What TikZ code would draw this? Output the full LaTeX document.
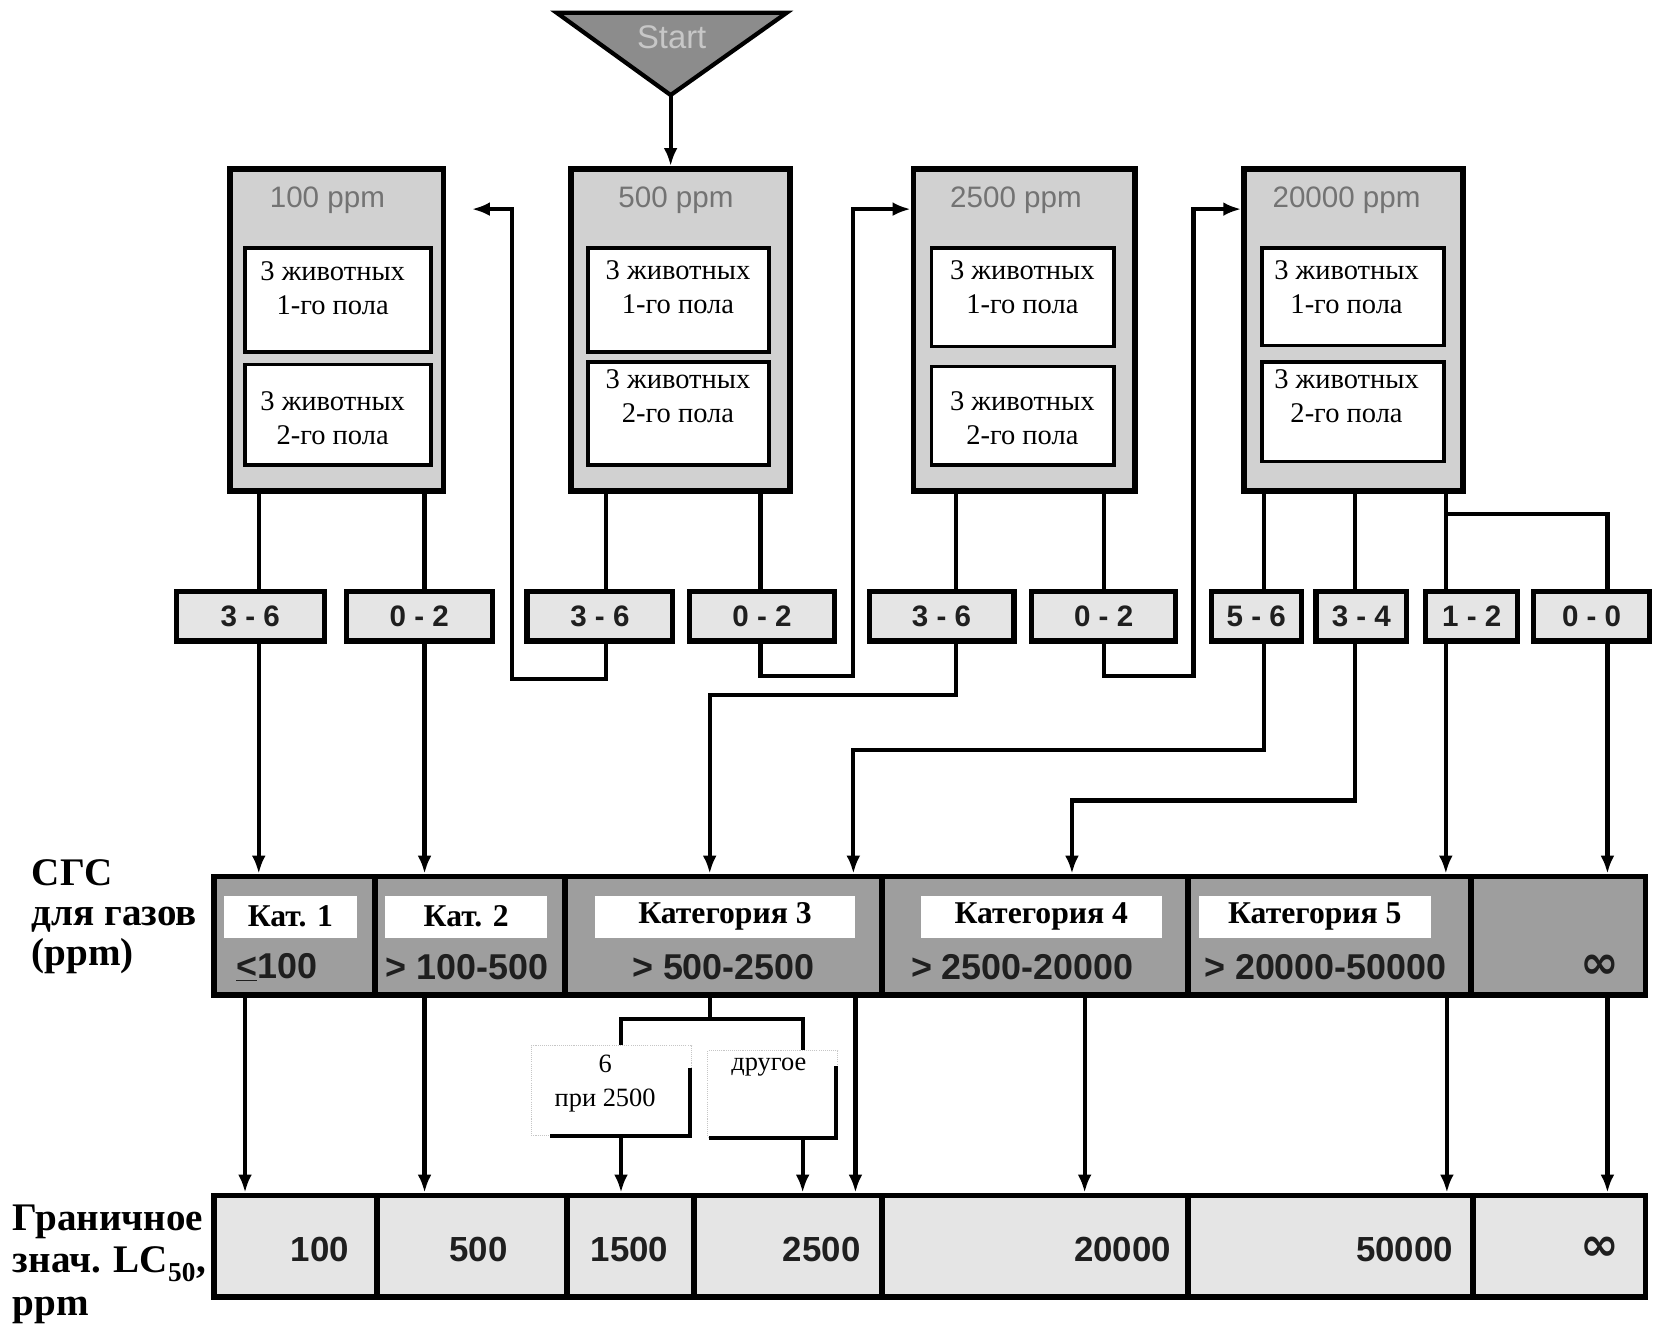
\documentclass[tikz,border=0pt]{standalone}
\usepackage{fontspec}
\setmainfont{Liberation Serif}
\setsansfont{Liberation Sans}
\newfontfamily\dvfont{DejaVu Sans}
\usetikzlibrary{arrows.meta,calc}
\definecolor{topgray}{gray}{0.82}
\definecolor{sgsgray}{gray}{0.62}
\definecolor{palegray}{gray}{0.90}
\definecolor{startgray}{gray}{0.55}
\definecolor{titlegray}{gray}{0.45}
\definecolor{starttext}{gray}{0.78}
\definecolor{darktext}{gray}{0.12}
\begin{document}
\begin{tikzpicture}[x=1pt,y=-1pt,
 conn/.style={line width=4pt},
 arr/.style={line width=4pt,-{Latex[length=17pt,width=13pt]}},
 outerbox/.style={draw,line width=5.5pt,fill=topgray,inner sep=0pt,minimum height=305pt},
 innerbox/.style={draw,line width=3.5pt,fill=white,inner sep=0pt},
 innertext/.style={align=center,inner sep=0pt,font=\fontsize{27}{32}\selectfont},
 titletext/.style={font=\sffamily\fontsize{28}{30}\selectfont,text=titlegray},
 resbox/.style={draw,line width=5pt,fill=palegray,inner sep=0pt,minimum height=47pt,font=\sffamily\bfseries\fontsize{28}{30}\selectfont,text=darktext},
 sgscell/.style={draw,line width=5.5pt,fill=sgsgray,inner sep=0pt,minimum height=112pt},
 catlabel/.style={fill=white,inner sep=0pt,minimum height=40pt,font=\bfseries\fontsize{30}{32}\selectfont},
 rangetext/.style={font=\sffamily\bfseries\fontsize{34}{36}\selectfont,text=darktext,inner sep=0pt},
 lccell/.style={draw,line width=5.5pt,fill=palegray,inner sep=0pt,minimum height=96pt},
 lcnum/.style={font=\sffamily\bfseries\fontsize{33}{36}\selectfont,text=darktext,inner sep=0pt},
 inftext/.style={font=\dvfont\bfseries\fontsize{44}{46}\selectfont,text=darktext,inner sep=0pt},
 sidelabel/.style={font=\bfseries\fontsize{37}{38}\selectfont,align=left,anchor=west,inner sep=0pt},
 subbox/.style={draw=gray!45,densely dotted,line width=1pt,fill=white,inner sep=0pt},
 subtext/.style={align=center,inner sep=0pt,font=\fontsize{25}{32}\selectfont}
]
\useasboundingbox (0,0) rectangle (1568,1265);
\fill[white] (0,0) rectangle (1568,1265);

% Start
\draw[fill=startgray,line width=4pt,line join=miter] (527,12) -- (745,12) -- (635,90) -- cycle;
\node[font=\sffamily\fontsize{31}{32}\selectfont,text=starttext] (start) at (636,35) {Start};
\coordinate (apex) at (635,90);

% top boxes
\node[outerbox,minimum width=202pt] (bA) at (319,312.5) {};
\node[outerbox,minimum width=207pt] (bB) at (644.5,312.5) {};
\node[outerbox,minimum width=210pt] (bC) at (970,312.5) {};
\node[outerbox,minimum width=207pt] (bD) at (1281.5,312.5) {};
\node[titletext] (tA) at (310,190) {100 ppm};
\node[titletext] (tB) at (640,190) {500 ppm};
\node[titletext] (tC) at (962,190) {2500 ppm};
\node[titletext] (tD) at (1275,190) {20000 ppm};

\node[innerbox,minimum width=176pt,minimum height=98pt] (iA1) at (320,284) {};
\node[innerbox,minimum width=176pt,minimum height=95pt] (iA2) at (320,392.5) {};
\node[innerbox,minimum width=171pt,minimum height=98pt] (iB1) at (642.5,284) {};
\node[innerbox,minimum width=171pt,minimum height=97pt] (iB2) at (642.5,391.5) {};
\node[innerbox,minimum width=173pt,minimum height=93pt] (iC1) at (968.5,281.5) {};
\node[innerbox,minimum width=173pt,minimum height=93pt] (iC2) at (968.5,393.5) {};
\node[innerbox,minimum width=172pt,minimum height=92pt] (iD1) at (1281,281) {};
\node[innerbox,minimum width=172pt,minimum height=94pt] (iD2) at (1281,390) {};
\node[innertext] (sA1) at (315,273) {3 животных\\1-го пола};
\node[innertext] (sA2) at (315,396) {3 животных\\2-го пола};
\node[innertext] (sB1) at (642,272) {3 животных\\1-го пола};
\node[innertext] (sB2) at (642,375) {3 животных\\2-го пола};
\node[innertext] (sC1) at (968,272) {3 животных\\1-го пола};
\node[innertext] (sC2) at (968,396) {3 животных\\2-го пола};
\node[innertext] (sD1) at (1275,272) {3 животных\\1-го пола};
\node[innertext] (sD2) at (1275,375) {3 животных\\2-го пола};

% result boxes
\node[resbox,minimum width=140pt] (rA1) at (237,583.5) {3 - 6};
\node[resbox,minimum width=138pt] (rA2) at (397,583.5) {0 - 2};
\node[resbox,minimum width=138pt] (rB1) at (568,583.5) {3 - 6};
\node[resbox,minimum width=137pt] (rB2) at (721.5,583.5) {0 - 2};
\node[resbox,minimum width=137pt] (rC1) at (891.5,583.5) {3 - 6};
\node[resbox,minimum width=136pt] (rC2) at (1045,583.5) {0 - 2};
\node[resbox,minimum width=85pt] (rD1) at (1189.5,583.5) {5 - 6};
\node[resbox,minimum width=86pt] (rD2) at (1289,583.5) {3 - 4};
\node[resbox,minimum width=87pt] (rD3) at (1393.5,583.5) {1 - 2};
\node[resbox,minimum width=110pt] (rD4) at (1507,583.5) {0 - 0};

% SGS row
\node[sgscell,minimum width=152pt] (c1) at (279,886) {};
\node[sgscell,minimum width=180pt] (c2) at (445,886) {};
\node[sgscell,minimum width=300pt] (c3) at (685,886) {};
\node[sgscell,minimum width=290pt] (c4) at (980,886) {};
\node[sgscell,minimum width=268pt] (c5) at (1259,886) {};
\node[sgscell,minimum width=165pt] (c6) at (1475.5,886) {};
\node[catlabel,minimum width=126pt] (k1) at (275,868) {Кат. 1};
\node[catlabel,minimum width=153pt] (k2) at (441.5,868) {Кат. 2};
\node[catlabel,minimum width=247pt] (k3) at (686.5,868) {Категория 3};
\node[catlabel,minimum width=228pt] (k4) at (986,868) {Категория 4};
\node[catlabel,minimum width=220pt] (k5) at (1245,868) {Категория 5};
\node[rangetext] (g1) at (262,916) {\underline{<}100};
\node[rangetext] (g2) at (442,916) {> 100-500};
\node[rangetext] (g3) at (685,916) {> 500-2500};
\node[rangetext] (g4) at (968,916) {> 2500-20000};
\node[rangetext] (g5) at (1255,916) {> 20000-50000};
\node[inftext] (g6) at (1515,915) {∞};

\node[sidelabel] (sgsl) at (30,868) {СГС\\для газов\\(ppm)};

% LC50 row
\node[lccell,minimum width=154pt] (b1) at (280,1180) {};
\node[lccell,minimum width=180pt] (b2) at (447,1180) {};
\node[lccell,minimum width=120pt] (b3) at (597,1180) {};
\node[lccell,minimum width=178pt] (b4) at (746,1180) {};
\node[lccell,minimum width=290pt] (b5) at (980,1180) {};
\node[lccell,minimum width=270pt] (b6) at (1260,1180) {};
\node[lccell,minimum width=163pt] (b7) at (1476.5,1180) {};
\node[lcnum] (n1) at (303,1183) {100};
\node[lcnum] (n2) at (453,1183) {500};
\node[lcnum] (n3) at (596,1183) {1500};
\node[lcnum] (n4) at (778,1183) {2500};
\node[lcnum] (n5) at (1063,1183) {20000};
\node[lcnum] (n6) at (1330,1183) {50000};
\node[inftext] (n7) at (1515,1182) {∞};

\node[sidelabel] (lcl) at (12,1197) {Граничное\\[2pt]знач. LC\textsubscript{50},\\[2pt]ppm};

% sub boxes under Kat 3
\node[subbox,minimum width=152pt,minimum height=85pt] (sixbox) at (579,1032.5) {};
\node[subbox,minimum width=123pt,minimum height=82pt] (othbox) at (731.5,1036) {};
\draw[line width=3.5pt] ($(sixbox.north east)+(-2,22)$) -- ($(sixbox.south east)+(-2,0)$) -- ($(sixbox.south west)+(18,0)$);
\draw[line width=3.5pt] ($(othbox.north east)+(-2,15)$) -- ($(othbox.south east)+(-2,0)$) -- ($(othbox.south west)+(2,0)$);
\node[subtext] (sixt) at (573,1026) {6\\при 2500};
\node[subtext] (otht) at (728,1010) {другое};

% coordinates for vertical lines
\coordinate (yT) at (0,198);
\coordinate (xA1) at (245,0);
\coordinate (xA2) at (402,0);
\coordinate (xB1) at (574,0);
\coordinate (xB2) at (720,0);
\coordinate (xC1) at (905,0);
\coordinate (xC2) at (1045,0);
\coordinate (xD1) at (1197,0);
\coordinate (xD2) at (1283,0);
\coordinate (xD3) at (1369,0);
\coordinate (xD4) at (1522,0);
\coordinate (x3a) at (672,0);
\coordinate (x3b) at (808,0);
\coordinate (x4) at (1015,0);
\coordinate (xs1) at (232,0);
\coordinate (xs2) at (402,0);
\coordinate (xs3) at (810,0);
\coordinate (xs4) at (1027,0);
\coordinate (xs5) at (1370,0);
\coordinate (xs6) at (1522,0);
\coordinate (xq1) at (588,0);
\coordinate (xq2) at (760,0);

% connectors
\draw[arr] (apex) -- (apex |- bB.north);
\draw[conn] (xA1 |- bA.south) -- (xA1 |- rA1.north);
\draw[conn] (xA2 |- bA.south) -- (xA2 |- rA2.north);
\draw[conn] (xB1 |- bB.south) -- (xB1 |- rB1.north);
\draw[conn] (xB2 |- bB.south) -- (xB2 |- rB2.north);
\draw[conn] (xC1 |- bC.south) -- (xC1 |- rC1.north);
\draw[conn] (xC2 |- bC.south) -- (xC2 |- rC2.north);
\draw[conn] (xD1 |- bD.south) -- (xD1 |- rD1.north);
\draw[conn] (xD2 |- bD.south) -- (xD2 |- rD2.north);
\draw[conn] (xD3 |- bD.south) -- (xD3 |- rD3.north);
\draw[conn] (1369,487) -| (xD4 |- rD4.north);

\draw[arr] (xA1 |- rA1.south) -- (xA1 |- c1.north);
\draw[arr] (xA2 |- rA2.south) -- (xA2 |- c2.north);
\draw[arr,shorten >=24pt] (xB1 |- rB1.south) |- (485,643) -- (485,198) -- (bA.east |- yT);
\draw[arr] (xB2 |- rB2.south) |- (808,640) -- (808,198) -- (bC.west |- yT);
\draw[arr] (xC2 |- rC2.south) |- (1130,640) -- (1130,198) -- (bD.west |- yT);
\draw[arr] (xC1 |- rC1.south) |- (672,658) -- (x3a |- c3.north);
\draw[arr] (xD1 |- rD1.south) |- (808,710) -- (x3b |- c3.north);
\draw[arr] (xD2 |- rD2.south) |- (1015,758) -- (x4 |- c4.north);
\draw[arr] (xD3 |- rD3.south) -- (xD3 |- c5.north);
\draw[arr] (xD4 |- rD4.south) -- (xD4 |- c6.north);

\draw[arr] (xs1 |- c1.south) -- (xs1 |- b1.north);
\draw[arr] (xs2 |- c2.south) -- (xs2 |- b2.north);
\draw[arr] (xs3 |- c3.south) -- (xs3 |- b4.north);
\draw[arr] (xs4 |- c4.south) -- (xs4 |- b5.north);
\draw[arr] (xs5 |- c5.south) -- (xs5 |- b6.north);
\draw[arr] (xs6 |- c6.south) -- (xs6 |- b7.north);

\draw[conn] (x3a |- c3.south) -- (672,965);
\draw[conn] (xq1 |- sixbox.north) -- (588,965) -- (760,965) -- (xq2 |- othbox.north);
\draw[arr] (xq1 |- sixbox.south) -- (xq1 |- b3.north);
\draw[arr] (xq2 |- othbox.south) -- (xq2 |- b4.north);
\end{tikzpicture}
\end{document}
